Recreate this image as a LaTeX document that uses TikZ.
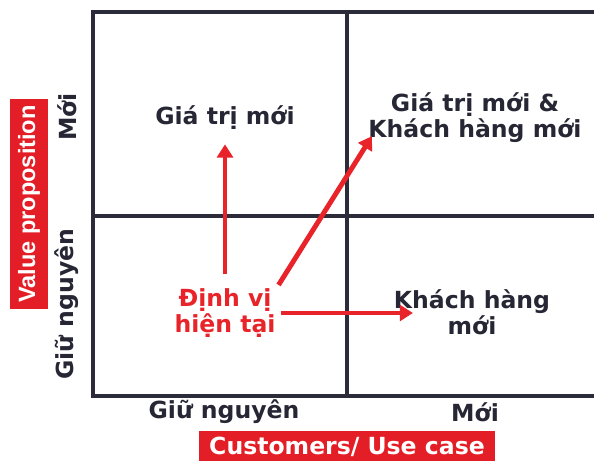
\documentclass[tikz,border=0pt]{standalone}
\usepackage{fontspec}
\setmainfont{DejaVu Sans}
\newfontfamily\arialfont{Liberation Sans}
\usetikzlibrary{arrows.meta, positioning}
\definecolor{gridnavy}{RGB}{43,43,58}
\definecolor{textnavy}{RGB}{38,38,52}
\definecolor{markred}{RGB}{232,36,42}
\definecolor{bandred}{RGB}{228,30,38}

\begin{document}
\begin{tikzpicture}[
    x=0.02cm, y=-0.02cm,
    quad/.style={font=\bfseries\fontsize{13.4}{14.8}\selectfont, text=textnavy,
                 align=center, inner sep=1pt},
    axislabel/.style={font=\bfseries\fontsize{13.4}{16}\selectfont, text=textnavy,
                      inner sep=0pt},
    band/.style={fill=bandred, text=white, inner sep=0pt},
    arr/.style={-{Triangle[length=7.5pt, width=9pt]}, line width=2.8pt, draw=markred},
    gridline/.style={draw=gridnavy, line width=2.2pt},
  ]
    \useasboundingbox (0,0) rectangle (594,460);

    % the four quadrants
    \draw[gridline] (594,12) -| (93,396) -- (594,396);
    \draw[gridline] (347,12) -- (347,396) (93,216) -- (594,216);

    \node[quad] (newval) at (225,118) {Giá trị mới};
    \node[quad] (both) at (475,118) {Giá trị mới \&\\Khách hàng mới};
    \node[quad] (newcust) at (472,312) {Khách hàng\\mới};
    \node[quad, text=markred] (current) at (225,313) {Định vị\\hiện tại};

    % axes
    \node[axislabel] (xkeep) at (224,412) {Giữ nguyên};
    \node[axislabel] (xnew) at (475,412) {Mới};
    \node[axislabel, rotate=90] (ynew) at (67,117) {Mới};
    \node[axislabel, rotate=90] (ykeep) at (67,304) {Giữ nguyên};
    \node[band, font=\bfseries\fontsize{13.4}{16}\selectfont, minimum width=169pt,
          minimum height=18pt] (custband) at (347,447) {Customers/ Use case};
    \node[band, font=\arialfont\bfseries\fontsize{13.4}{16}\selectfont, rotate=90,
          minimum width=120pt, minimum height=21.5pt] (valband) at (29,204) {Value proposition};

    \draw[arr, shorten <=7pt, shorten >=7pt] (current) -- (newval);
    \draw[arr, shorten <=1pt, shorten >=-6pt] (current.north east) -- (both.south west);
    \draw[arr, shorten <=2pt, shorten >=-12pt] (current.east) -- (current.east -| newcust.west);
  \end{tikzpicture}
\end{document}
